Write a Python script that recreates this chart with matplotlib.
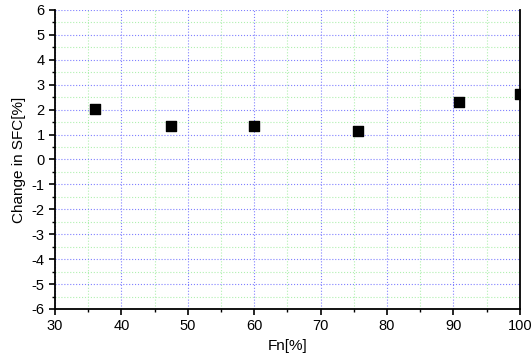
import matplotlib
matplotlib.use('Agg')
import matplotlib.pyplot as plt
from matplotlib.ticker import MultipleLocator

# Data
fn = [36, 47.5, 60, 75.7, 90.9, 100]
sfc_change = [2.02, 1.35, 1.35, 1.15, 2.3, 2.62]

plt.rcParams['font.family'] = ['Liberation Sans', 'DejaVu Sans']
plt.rcParams['axes.unicode_minus'] = False

fig = plt.figure(figsize=(5.31, 3.57), dpi=100)
ax = fig.add_axes([0.1036, 0.1345, 0.8754, 0.8375])

ax.scatter(fn, sfc_change, marker='s', s=58, color='black', zorder=5, clip_on=True)

ax.set_xlim(30, 100)
ax.set_ylim(-6, 6)
ax.xaxis.set_major_locator(MultipleLocator(10))
ax.xaxis.set_minor_locator(MultipleLocator(5))
ax.yaxis.set_major_locator(MultipleLocator(1))
ax.yaxis.set_minor_locator(MultipleLocator(0.5))

# Grids: major blue dotted, minor light green dotted
ax.grid(which='major', color='#8080ff', linestyle=':', linewidth=0.8)
ax.grid(which='minor', color='#b0f0b0', linestyle=':', linewidth=0.8)
ax.set_axisbelow(True)

ax.spines['top'].set_visible(False)
for s in ['left', 'bottom', 'right']:
    ax.spines[s].set_linewidth(1.3)

ax.tick_params(which='major', direction='out', length=4, width=1.2, labelsize=10.5)
ax.tick_params(which='minor', direction='out', length=2.5, width=1)

ax.set_xlabel('Fn[%]', fontsize=11)
ax.set_ylabel('Change in SFC[%]', fontsize=11)

fig.savefig('out.png', dpi=100)
